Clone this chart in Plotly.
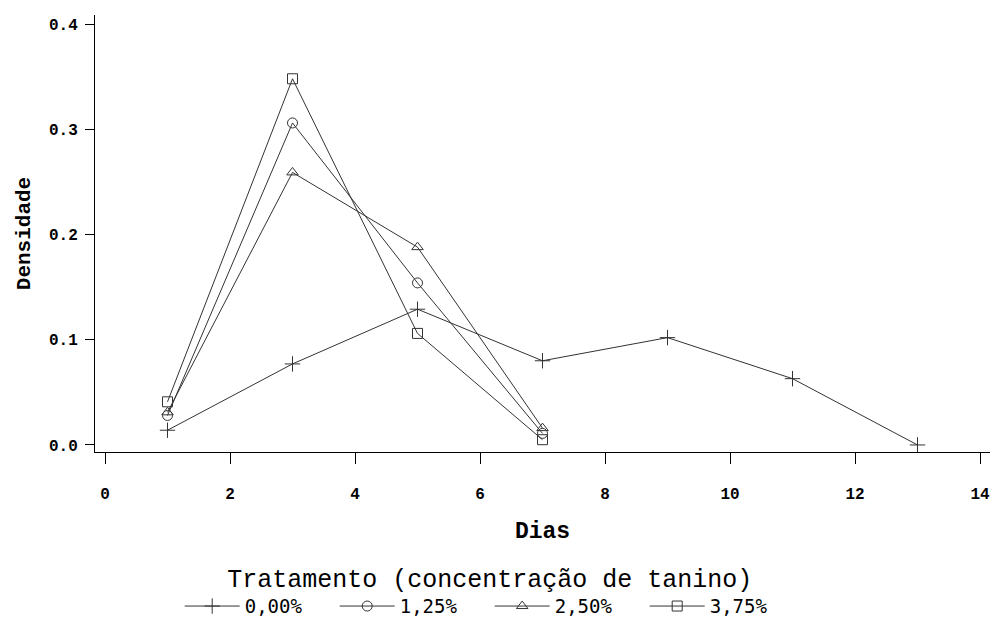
import plotly.graph_objects as go

# Sampling days
dias = [1, 3, 5, 7, 9, 11, 13]
dias_curto = [1, 3, 5, 7]

# Density per tannin concentration
dens_000 = [0.014, 0.077, 0.129, 0.080, 0.102, 0.063, 0.000]
dens_125 = [0.028, 0.306, 0.154, 0.011]
dens_250 = [0.031, 0.259, 0.188, 0.016]
dens_375 = [0.041, 0.348, 0.106, 0.005]

rotulos = ["0,00%", "1,25%", "2,50%", "3,75%"]
simbolos = ["cross-thin", "circle-open", "triangle-up-open", "square-open"]

x_ticks = list(range(0, 15, 2))
y_ticks = [0.0, 0.1, 0.2, 0.3, 0.4]

series = [
    (dias, dens_000),
    (dias_curto, dens_125),
    (dias_curto, dens_250),
    (dias_curto, dens_375),
]

cor = "#333333"
fig = go.Figure()
for (xs, ys), nome, simb in zip(series, rotulos, simbolos):
    fig.add_trace(go.Scatter(
        x=xs, y=ys, name=nome, mode="lines+markers",
        line=dict(color=cor, width=1),
        marker=dict(symbol=simb, size=10 if simb != "cross-thin" else 11,
                    color=cor, line=dict(color=cor, width=1)),
    ))

tick_font = dict(family="Liberation Mono", size=16, color="black", weight="bold")
title_font = dict(family="Liberation Mono", size=21, color="black", weight="bold")

fig.update_layout(
    width=993, height=634,
    margin=dict(l=95, r=3, t=15, b=182),
    plot_bgcolor="white", paper_bgcolor="white",
    xaxis=dict(
        range=[-0.16, 14.16], tickvals=x_ticks,
        showline=True, linecolor="black", linewidth=1,
        ticks="outside", ticklen=11, tickcolor="black", tickwidth=1,
        ticklabelstandoff=16,
        showgrid=False, zeroline=False, tickfont=tick_font,
        title=dict(text="Dias", font=dict(title_font, size=23), standoff=18),
    ),
    yaxis=dict(
        range=[-0.0067, 0.4086], tickvals=y_ticks, tickformat=".1f",
        showline=True, linecolor="black", linewidth=1,
        ticks="outside", ticklen=9, tickcolor="black", tickwidth=1,
        ticklabelstandoff=4,
        showgrid=False, zeroline=False, tickfont=tick_font,
        title=dict(text="Densidade", font=title_font, standoff=12),
    ),
    showlegend=True,
    legend=dict(
        orientation="h", x=0.441, xanchor="center", y=-0.235, yanchor="top",
        title=dict(text="Tratamento (concentração de tanino)", side="top center",
                   font=dict(family="Liberation Mono", size=25, color="black")),
        font=dict(family="DejaVu Sans Mono", size=19, color="black"),
        itemwidth=55, entrywidth=85, entrywidthmode="pixels",
        bgcolor="rgba(0,0,0,0)",
    ),
)

fig.write_html("out.html")
